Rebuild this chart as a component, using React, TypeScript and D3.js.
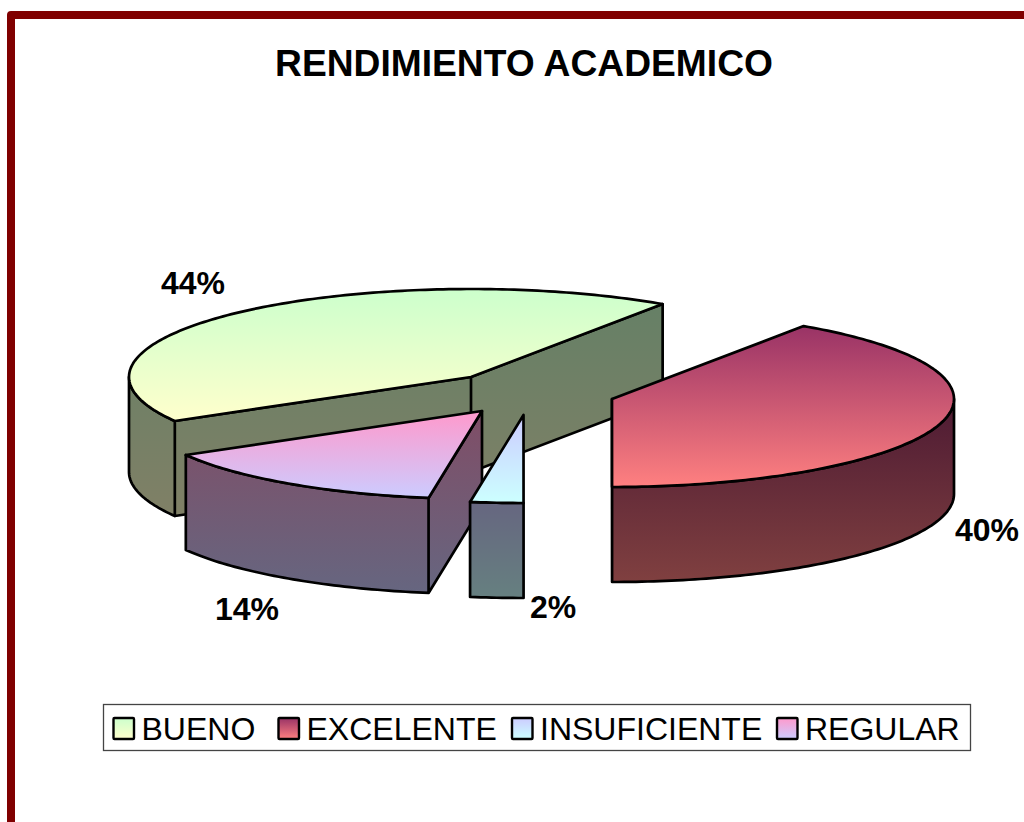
import React from "react";
import * as d3 from "d3";

const categories = ["BUENO", "EXCELENTE", "INSUFICIENTE", "REGULAR"];
const shares = [42.8, 40.53, 2.5, 14.17];
const percentLabels = ["44%", "40%", "2%", "14%"];
const topTopColors = ["#ccffcc", "#993366", "#ccccff", "#ff99cc"];
const topBottomColors = ["#ffffcc", "#ff8080", "#ccffff", "#ccccff"];

const W = 1024;
const H = 822;
const RX = 342;
const RY = 88;
const DEPTH = 95;
const FONT = "'Liberation Sans', Arial, sans-serif";

// Layout only: the exploded centre of each slice, label anchors and legend slots.
const centres: [number, number][] = [[471, 377], [612, 399], [523.5, 415], [482, 411]];
const labelAnchors: [number, number][] = [[161, 294], [955, 540.5], [530, 618], [215, 620]];
const legendSlots = [113.5, 278.5, 512, 777];
const drawOrder = [0, 1, 3, 2];

const deg = (r: number) => (r * 180) / Math.PI;
const rad = (d: number) => (d * Math.PI) / 180;

const arcs = d3
  .pie<number>()
  .sort(null)
  .startAngle(rad(240))
  .endAngle(rad(240 + 360))(shares);

const line = d3.line<[number, number]>().x((p) => p[0]).y((p) => p[1]);

function rim(i: number, fromDeg: number, toDeg: number, dy = 0): [number, number][] {
  const [cx, cy] = centres[i];
  const n = Math.max(2, Math.ceil(Math.abs(toDeg - fromDeg)) + 1);
  return d3.range(n).map((k) => {
    const t = rad(fromDeg + ((toDeg - fromDeg) * k) / (n - 1));
    return [cx + RX * Math.sin(t), cy - RY * Math.cos(t) + dy] as [number, number];
  });
}

function topPath(i: number) {
  const a = deg(arcs[i].startAngle);
  const b = deg(arcs[i].endAngle);
  return line([centres[i], ...rim(i, a, b)]) + "Z";
}

function wallPath(i: number) {
  const a = deg(arcs[i].startAngle);
  const b = deg(arcs[i].endAngle);
  const [cx, cy] = centres[i];
  const eps = 1e-6;
  const parts: string[] = [];
  // outer curved wall: the part of the rim on the front half of the ellipse
  for (const shift of [0, 360]) {
    const from = Math.max(a, 90 + shift);
    const to = Math.min(b, 270 + shift);
    if (to > from) {
      parts.push(line([...rim(i, from, to), ...rim(i, to, from, DEPTH)]) + "Z");
    }
  }
  const cut = (t: number) => {
    const [[px, py]] = rim(i, t, t);
    return line([[cx, cy], [px, py], [px, py + DEPTH], [cx, cy + DEPTH]]) + "Z";
  };
  if (Math.sin(rad(a)) < -eps) parts.push(cut(a));
  if (Math.sin(rad(b)) > eps) parts.push(cut(b));
  return parts.join("");
}

const half = (c: string) => {
  const x = d3.rgb(c);
  return d3.rgb(x.r * 0.5, x.g * 0.5, x.b * 0.5).formatHex();
};

export default function App() {
  return (
    <svg
      width={W}
      height={H}
      viewBox={`0 0 ${W} ${H}`}
      style={{ position: "absolute", left: 0, top: 0, background: "#fff", display: "block" }}
    >
      <defs>
        {categories.map((_, i) => (
          <React.Fragment key={i}>
            <linearGradient id={`top${i}`} x1="0" y1="0" x2="0" y2="1">
              <stop offset="0" stopColor={topTopColors[i]} />
              <stop offset="1" stopColor={topBottomColors[i]} />
            </linearGradient>
            <linearGradient id={`wall${i}`} x1="0" y1="0" x2="0" y2="1">
              <stop offset="0" stopColor={half(topTopColors[i])} />
              <stop offset="1" stopColor={half(topBottomColors[i])} />
            </linearGradient>
          </React.Fragment>
        ))}
      </defs>

      <rect x={11} y={15} width={W + 40} height={H + 40} fill="#fff" stroke="#800000" strokeWidth={8} strokeLinejoin="round" />

      <text x={524} y={76} textAnchor="middle" fontFamily={FONT} fontWeight="bold" fontSize={37.2} fill="#000">
        RENDIMIENTO ACADEMICO
      </text>

      {drawOrder.map((i) => (
        <g key={i} stroke="#000" strokeWidth={2.7} strokeLinejoin="round">
          <path d={wallPath(i)} fill={`url(#wall${i})`} />
          <path d={topPath(i)} fill={`url(#top${i})`} />
        </g>
      ))}

      {percentLabels.map((t, i) => (
        <text key={i} x={labelAnchors[i][0]} y={labelAnchors[i][1]} fontFamily={FONT} fontWeight="bold" fontSize={32} fill="#000">
          {t}
        </text>
      ))}

      <rect x={103.5} y={704.5} width={867} height={46} fill="#fff" stroke="#444" strokeWidth={1.3} />
      {categories.map((c, i) => (
        <g key={c}>
          <rect
            x={legendSlots[i]}
            y={718}
            width={20.5}
            height={21}
            rx={1}
            fill={`url(#top${i})`}
            stroke="#000"
            strokeWidth={2.4}
          />
          <text x={legendSlots[i] + 28} y={739.5} fontFamily={FONT} fontSize={32} fill="#000">
            {c}
          </text>
        </g>
      ))}
    </svg>
  );
}
